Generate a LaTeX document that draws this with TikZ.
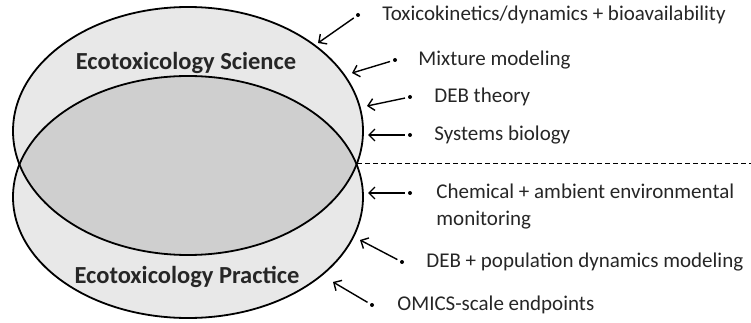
\documentclass[tikz,border=0pt]{standalone}
\usepackage{fontspec}
\setmainfont{Carlito}
\usetikzlibrary{positioning}
\usetikzlibrary{arrows.meta}
\tikzset{
	item/.style={anchor=west, inner sep=0pt, align=left, font=\fontsize{21}{27}\selectfont, text=black!85},
	dot/.style={circle, fill=black, inner sep=0pt, minimum size=4pt},
	title/.style={inner sep=0pt, font=\fontsize{24.5}{28}\selectfont\bfseries, text=black!85},
	rim/.style={line width=1.8pt},
}

\begin{document}
\begin{tikzpicture}[x=1pt, y=-1pt]
	\useasboundingbox (0,0) rectangle (751,323);
	% the two fields
	\fill[black!9] (188,131) ellipse (175 and 124);
	\fill[black!9] (188,197) ellipse (175 and 121);
	\begin{scope}
		\clip (188,131) ellipse (175 and 124);
		\fill[black!19] (188,197) ellipse (175 and 121);
	\end{scope}
	\draw[rim] (188,131) ellipse (175 and 124);
	\draw[rim] (188,197) ellipse (175 and 121);
	
	\node (sci) [title] at (186,63) {Ecotoxicology Science};
	\node (prac) [title] at (187,277) {Ecotoxicology Practice};
	
	% border between science and practice
	\coordinate (cross) at (357,163);
	\coordinate (edge) at (751,163);
	\draw[dash pattern=on 5pt off 3pt, line width=1pt] (cross) -- (edge);
	
	\node (b1) [dot] at (358,15) {};
	\node (b2) [dot] at (395,60) {};
	\node (b3) [dot] at (410,97) {};
	\node (b4) [dot] at (410,135) {};
	\node (b5) [dot] at (410,193) {};
	\node (b6) [dot] at (402,262) {};
	\node (b7) [dot] at (372,305) {};
	
	\node (t1) [item, right=22pt of b1] {Toxicokinetics/dynamics + bioavailability};
	\node (t2) [item, right=21pt of b2] {Mixture modeling};
	\node (t3) [item, right=22pt of b3] {DEB theory};
	\node (t4) [item, right=22pt of b4] {Systems biology};
	\node (t5) [item, right=24pt of b5, yshift=-13.5pt] {Chemical + ambient environmental\\monitoring};
	\node (t6) [item, right=22pt of b6] {DEB + population dynamics modeling};
	\node (t7) [item, right=23pt of b7] {OMICS-scale endpoints};
	
	\coordinate (e1) at (318,43);
	\coordinate (e2) at (352,73);
	\coordinate (e3) at (367,106);
	\coordinate (e4) at (368,135);
	\coordinate (e5) at (368,193);
	\coordinate (e6) at (360,240);
	\coordinate (e7) at (333,282);
	
	\begin{scope}[line width=1.4pt, black, ->, >={Straight Barb[length=6pt, width=12pt]}, shorten <=3pt]
		\draw (b1) -- (e1);
		\draw (b2) -- (e2);
		\draw (b3) -- (e3);
		\draw (b4) -- (e4);
		\draw (b5) -- (e5);
		\draw (b6) -- (e6);
		\draw (b7) -- (e7);
	\end{scope}
\end{tikzpicture}
\end{document}
